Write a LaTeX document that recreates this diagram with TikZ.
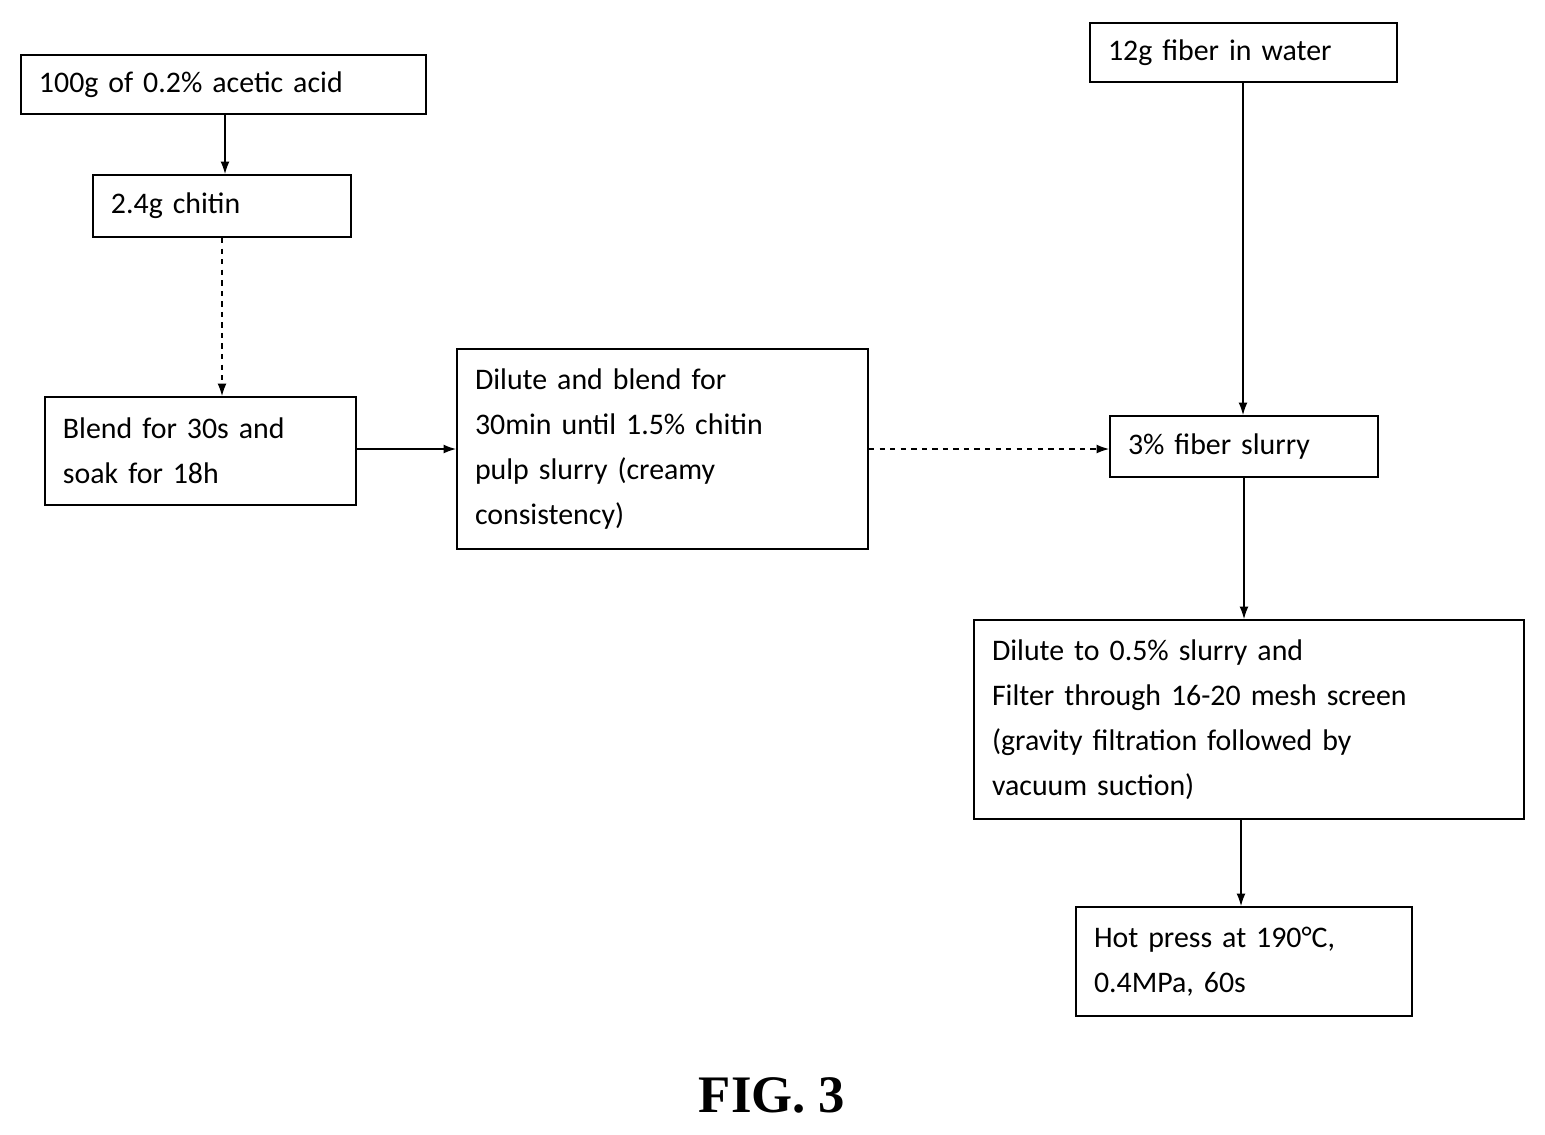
\documentclass[tikz,border=0pt]{standalone}
\usepackage{fontspec}
\setmainfont{Carlito}
\usetikzlibrary{arrows.meta}
\begin{document}
\begin{tikzpicture}[x=0.02cm,y=-0.02cm,
 box/.style={draw,line width=1.2pt,inner xsep=0.36cm,inner ysep=0pt,align=left,anchor=center,font=\fontsize{17}{25.5}\selectfont},
 arr/.style={-{Latex[length=7pt,width=5pt]},line width=0.6pt},
 dsh/.style={arr,dashed}]
\useasboundingbox (0,0) rectangle (1545,1134);
\newcommand\bx[6]{\node[box,text width={(#3-#1)*0.02cm-0.72cm},minimum height={(#4-#2)*0.02cm}] (#5) at ({(#1+#3)/2},{(#2+#4)/2}) {#6};}
\bx{21}{55}{426}{114}{a}{100g of 0.2\% acetic acid}
\bx{93}{175}{351}{237}{b}{2.4g chitin}
\bx{45}{397}{356}{505}{c}{Blend for 30s and\\soak for 18h}
\bx{457}{349}{868}{549}{d}{Dilute and blend for\\30min until 1.5\% chitin\\pulp slurry (creamy\\consistency)}
\bx{1090}{23}{1397}{82}{e}{12g fiber in water}
\bx{1110}{416}{1378}{477}{f}{3\% fiber slurry}
\bx{974}{620}{1524}{819}{g}{Dilute to 0.5\% slurry and\\Filter through 16-20 mesh screen\\(gravity filtration followed by\\vacuum suction)}
\bx{1076}{907}{1412}{1016}{h}{Hot press at 190°C,\\0.4MPa, 60s}
\node[font=\fontsize{30}{36}\bfseries\fontspec{Liberation Serif}] (t) at (772,1095) {FIG. 3};
\draw[arr] (a.south -| 225,0) -- (b.north -| 225,0);
\draw[dsh] (b.south -| 222,0) -- (c.north -| 222,0);
\draw[arr] (c.east |- 0,449) -- (d.west |- 0,449);
\draw[dsh] (d.east |- 0,449) -- (f.west |- 0,449);
\draw[arr] (e.south -| 1243,0) -- (f.north -| 1243,0);
\draw[arr] (f.south -| 1244,0) -- (g.north -| 1244,0);
\draw[arr] (g.south -| 1241,0) -- (h.north -| 1241,0);
\end{tikzpicture}
\end{document}
